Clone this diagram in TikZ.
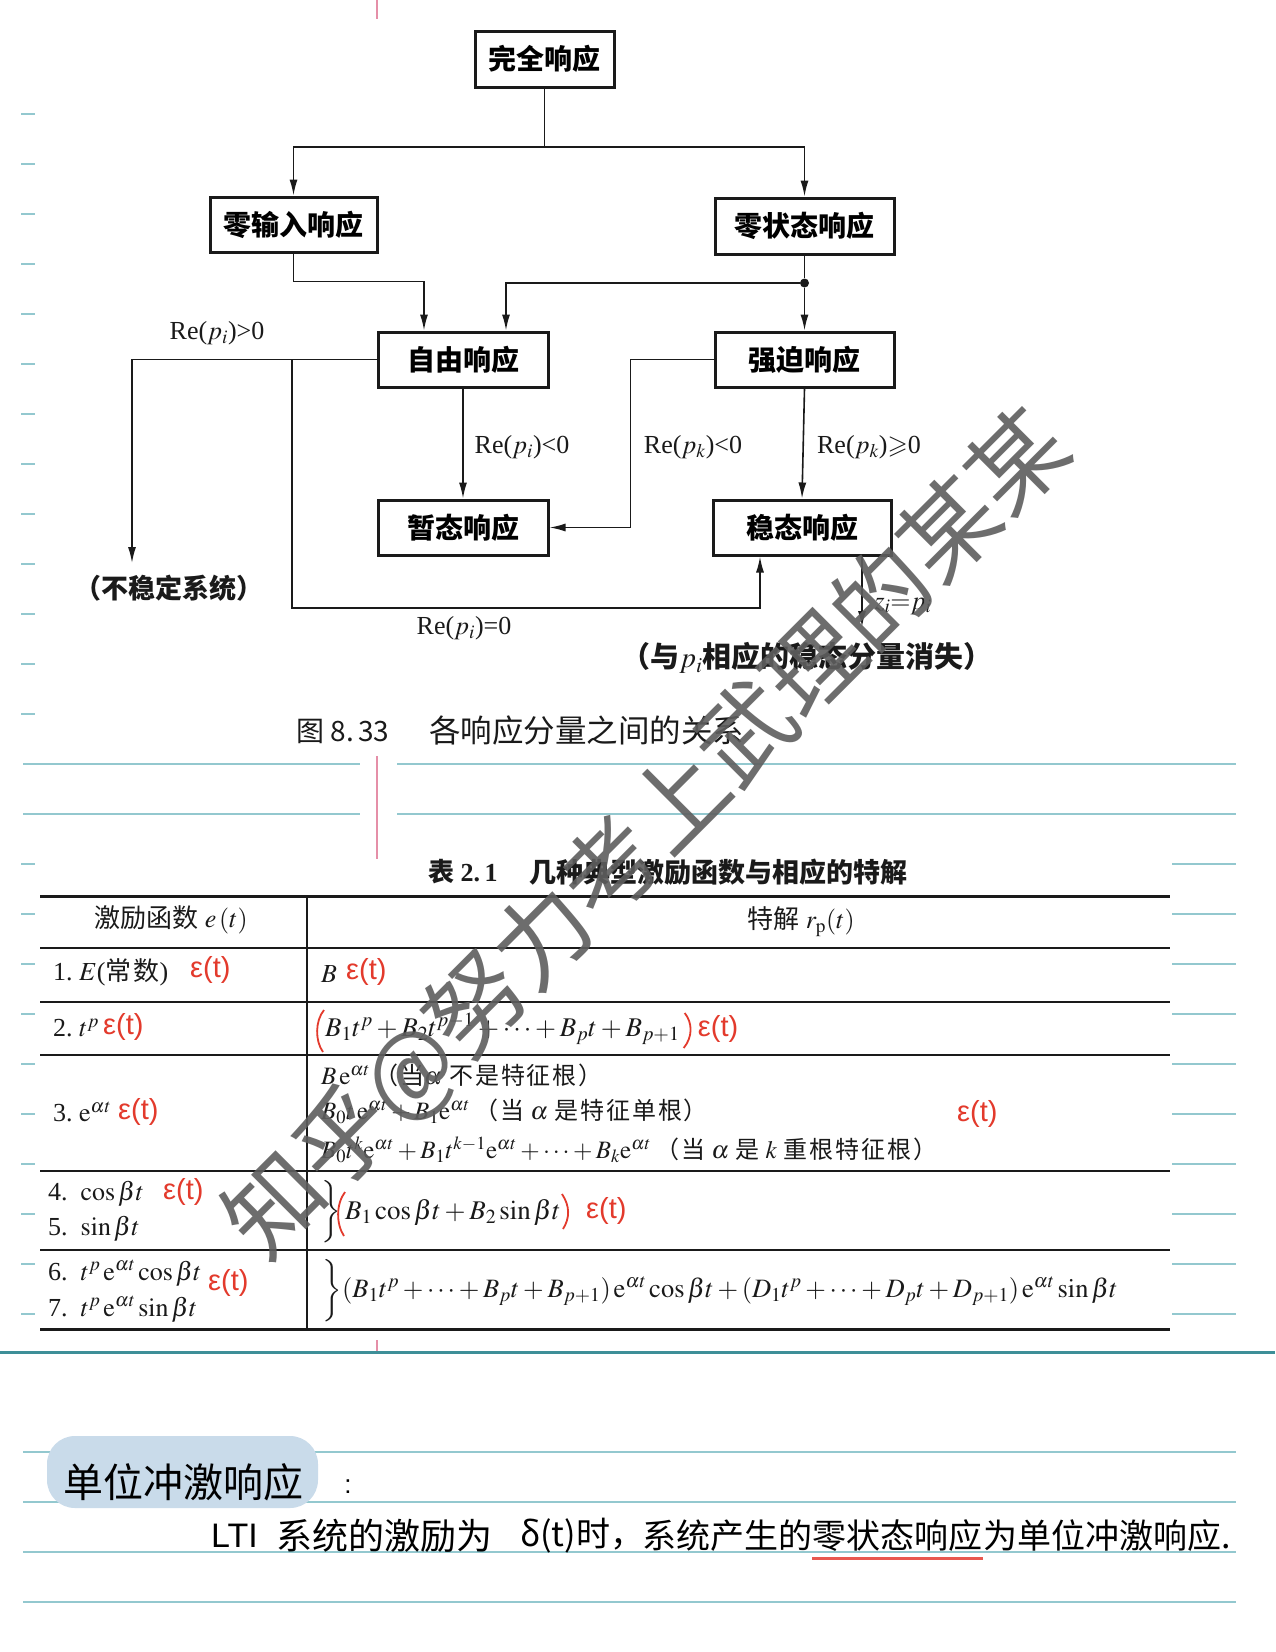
\documentclass[tikz,border=0pt]{standalone}
\usepackage{mathptmx}
\usepackage{amssymb}
\usepackage{fontspec}
\setmainfont{Liberation Serif}
\newfontfamily\cjk{Noto Sans CJK SC}
\newfontfamily\cjkls{Noto Sans CJK SC}[LetterSpace=8]
\newfontfamily\hand{Liberation Sans}
\usetikzlibrary{arrows.meta}
\newcommand\setfs[1]{\fontsize{#1pt}{#1pt}\selectfont}
\definecolor{ink}{HTML}{1A1A1A}
\definecolor{nbline}{HTML}{93C8CF}
\definecolor{nbdark}{HTML}{3E8F98}
\definecolor{pinkl}{HTML}{E58FA8}
\definecolor{hred}{HTML}{E33A2C}
\definecolor{hlblue}{HTML}{C9DBEA}
\definecolor{wmgray}{HTML}{5E5E5E}
\definecolor{ulred}{HTML}{E8584F}
\begin{document}
\begin{tikzpicture}[x=1pt,y=-1pt,
  box/.style={draw=ink, line width=3pt, inner sep=0pt, font=\cjk\bfseries\setfs{28}},
  conn/.style={draw=ink, line width=1.6pt},
  arr/.style={conn, -{Latex[length=16pt,width=8pt]}},
  jdot/.style={circle, fill=ink, inner sep=0pt, minimum size=9pt},
  lbl/.style={inner sep=0pt, text=ink, font=\setfs{26}},
  cell/.style={inner sep=0pt, anchor=west, text=ink, font=\setfs{26}},
  hw/.style={inner sep=0pt, anchor=west, text=hred, font=\hand\setfs{29}},
  hparen/.style={draw=hred, line width=1.8pt},
  nb/.style={draw=nbline, line width=1.4pt},
  rulethin/.style={draw=ink, line width=1.6pt},
  rulethick/.style={draw=ink, line width=3pt},
  hnote/.style={inner sep=0pt, anchor=west, text=black, font=\cjk\setfs{34}}
]
\useasboundingbox (0,0) rectangle (1275,1652);
\fill[white] (0,0) rectangle (1275,1652);

% ---------- notebook ruling ----------
\foreach \yy in {114,164,...,714} \draw[nb] (21,\yy) -- (35,\yy);
\foreach \yy in {864,914,...,1314} {
  \draw[nb] (21,\yy) -- (35,\yy);
  \draw[nb] (1172,\yy) -- (1236,\yy);
}
\foreach \yy in {764,814} {
  \draw[nb] (23,\yy) -- (360,\yy);
  \draw[nb] (397,\yy) -- (1236,\yy);
}
\foreach \yy in {1452,1502,1552,1602} \draw[nb] (23,\yy) -- (1236,\yy);
\draw[nbdark, line width=3pt] (0,1352) -- (1275,1352);
\draw[pinkl, line width=2pt] (377,0) -- (377,19);
\draw[pinkl, line width=2pt] (377,756) -- (377,859);
\draw[pinkl, line width=2pt] (377,1340) -- (377,1351);

% ---------- flow chart of response components ----------
\node[box, minimum width=139pt, minimum height=56pt] (full)   at (544.5,59)    {完全响应};
\node[box, minimum width=167pt, minimum height=55pt] (zin)    at (293.5,224.5) {零输入响应};
\node[box, minimum width=179pt, minimum height=56pt] (zst)    at (804.5,226)   {零状态响应};
\node[box, minimum width=170pt, minimum height=55pt] (free)   at (463,359.5)   {自由响应};
\node[box, minimum width=179pt, minimum height=55pt] (forced) at (804.5,359.5) {强迫响应};
\node[box, minimum width=170pt, minimum height=55pt] (trans)  at (463,527.5)   {暂态响应};
\node[box, minimum width=178pt, minimum height=55pt] (steady) at (802,527.5)   {稳态响应};

\coordinate (split) at (544.5,147);
\draw[conn] (full.south) -- (split);
\draw[arr] (split) -| (zin.north);
\draw[arr] (split) -| (zst.north);

\draw[arr] (zin.south) -- ++(0,28) -| ([xshift=-39pt]free.north);
\node[jdot] (dot) at (804.5,283) {};
\draw[conn] (zst.south) -- (dot);
\draw[arr] (dot) -- (forced.north);
\draw[arr] (dot) -| ([xshift=43pt]free.north);

\coordinate (unstab) at (132,563);
\draw[arr] (free.west) -| (unstab);
\coordinate (branch) at (292,359.5);
\coordinate (bottom) at (760,608);
\draw[arr] (branch) |- (bottom) -- (bottom |- steady.south);
\draw[arr] (free.south) -- (trans.north);
\draw[arr] (forced.west) -- ++(-83,0) |- (trans.east);
\draw[arr] (forced.south) -- (steady.north);
\coordinate (vanish) at (862,627);
\draw[arr] ([xshift=60pt]steady.south) -- (vanish);

\node[lbl] (lgt)  at (217,333) {Re($p_i$)>0};
\node[lbl] (llt)  at (522,447) {Re($p_i$)<0};
\node[lbl] (lklt) at (693,447) {Re($p_k$)<0};
\node[lbl] (lkge) at (869,447) {Re($p_k$)$\geqslant$0};
\node[lbl] (leq)  at (464,628) {Re($p_i$)=0};
\node[lbl] (lz)   at (903,606) {$z_i{=}p_i$};
\node[inner sep=0pt, text=ink, font=\cjk\bfseries\setfs{27}] (unst) at (169,588) {（不稳定系统）};
\node[inner sep=0pt, text=ink, font=\cjk\bfseries\setfs{29}] (vanishtxt) at (807,658) {（与$p_i$相应的稳态分量消失）};
\node[inner sep=0pt, anchor=west, text=ink, font=\cjk\setfs{28}] (cap1) at (296,731) {图 8.\,33};
\node[inner sep=0pt, anchor=west, text=ink, font=\cjk\setfs{31.5}] (cap2) at (429,731) {各响应分量之间的关系};

% ---------- table of particular solutions ----------
\node[inner sep=0pt, anchor=west, text=ink, font=\setfs{26}\bfseries] (ttl1) at (428,872) {{\cjk 表} 2.\,1};
\node[inner sep=0pt, anchor=west, text=ink, font=\cjk\bfseries\setfs{27}] (ttl2) at (529,872) {几种典型激励函数与相应的特解};
\draw[rulethick] (40,896) -- (1170,896);
\draw[rulethin]  (40,948) -- (1170,948);
\draw[rulethin]  (40,1002) -- (1170,1002);
\draw[rulethin]  (40,1055) -- (1170,1055);
\draw[rulethin]  (40,1171) -- (1170,1171);
\draw[rulethin]  (40,1250) -- (1170,1250);
\draw[rulethick] (40,1329) -- (1170,1329);
\draw[rulethin]  (307,896) -- (307,1329);

\node[inner sep=0pt, text=ink, font=\setfs{26}] (h1) at (171,920) {{\cjk 激励函数} $e\,(t)$};
\node[inner sep=0pt, text=ink, font=\setfs{26}] (h2) at (801,922) {{\cjk 特解} $r_{\mathrm{p}}(t)$};

% row 1
\node[cell] (a1) at (53,972) {1.\ $E$({\cjkls 常数})};
\node[hw] (a1e) at (190,970) {ε(t)};
\node[cell] (b1) at (321,974) {$B$};
\node[hw] (b1e) at (346,972) {ε(t)};
% row 2
\node[cell] (a2) at (53,1028) {2.\ $t^p$};
\node[hw] (a2e) at (103,1027) {ε(t)};
\node[cell] (b2) at (325,1029) {\setfs{27}$B_1t^p+B_2t^{p-1}+\cdots+B_pt+B_{p+1}$};
\draw[hparen] ([xshift=-1pt,yshift=19pt]b2.west) .. controls ([xshift=-10pt,yshift=8pt]b2.west) and ([xshift=-10pt,yshift=-12pt]b2.west) .. ([xshift=-2pt,yshift=-23pt]b2.west);
\draw[hparen] ([xshift=5pt,yshift=16pt]b2.east) .. controls ([xshift=13pt,yshift=6pt]b2.east) and ([xshift=13pt,yshift=-8pt]b2.east) .. ([xshift=4pt,yshift=-19pt]b2.east);
\node[hw] (b2e) at ([xshift=18pt]b2.east) {ε(t)};
% row 3
\node[cell] (a3) at (53,1112) {3.\ $\mathrm{e}^{\alpha t}$};
\node[hw] (a3e) at (118,1112) {ε(t)};
\node[cell, font=\setfs{25}] (b3a) at (321,1075) {$B\,\mathrm{e}^{\alpha t}$\,{\cjkls\setfs{24}（当}$\alpha${\cjkls\setfs{24} 不是特征根）}};
\node[cell, font=\setfs{25}] (b3b) at (321,1111) {$B_0t\,\mathrm{e}^{\alpha t}+B_1\mathrm{e}^{\alpha t}$\,{\cjkls\setfs{24}（当} $\alpha$ {\cjkls\setfs{24}是特征单根）}};
\node[cell, font=\setfs{25}] (b3c) at (321,1150) {$B_0t^k\mathrm{e}^{\alpha t}+B_1t^{k-1}\mathrm{e}^{\alpha t}+\cdots+B_k\mathrm{e}^{\alpha t}$\,{\cjkls\setfs{24}（当} $\alpha$ {\cjkls\setfs{24}是} $k$ {\cjkls\setfs{24}重根特征根）}};
\node[hw] (b3e) at (957,1114) {ε(t)};
% rows 4 and 5
\node[cell] (a4) at (48,1194) {4.\ \ $\cos\beta t$};
\node[hw] (a4e) at (163,1192) {ε(t)};
\node[cell] (a5) at (48,1229) {5.\ \ $\sin\beta t$};
\node[inner sep=0pt, text=ink] (br45) at (331,1212) {\setfs{26}$\left.\vrule height 24pt depth 24pt width 0pt\right\}$};
\node[cell, font=\setfs{27}] (b45) at (345,1212) {$B_1\cos\beta t+B_2\sin\beta t$};
\draw[hparen] ([xshift=0pt,yshift=20pt]b45.west) .. controls ([xshift=-9pt,yshift=8pt]b45.west) and ([xshift=-9pt,yshift=-12pt]b45.west) .. ([xshift=-1pt,yshift=-24pt]b45.west);
\coordinate (rp45) at (567,1212);
\draw[hparen] ([xshift=-4pt,yshift=-17pt]rp45) .. controls ([xshift=3pt,yshift=-6pt]rp45) and ([xshift=3pt,yshift=6pt]rp45) .. ([xshift=-5pt,yshift=18pt]rp45);
\node[hw] (b45e) at (586,1211) {ε(t)};
% rows 6 and 7
\node[cell] (a6) at (48,1273) {6.\ \ $t^p\,\mathrm{e}^{\alpha t}\cos\beta t$};
\node[hw] (a6e) at (208,1283) {ε(t)};
\node[cell] (a7) at (48,1309) {7.\ \ $t^p\,\mathrm{e}^{\alpha t}\sin\beta t$};
\node[inner sep=0pt, text=ink] (br67) at (332,1291) {\setfs{26}$\left.\vrule height 24pt depth 24pt width 0pt\right\}$};
\node[cell, font=\setfs{26.5}] (b67) at (342,1291) {$(B_1t^p+\cdots+B_pt+B_{p+1})\,\mathrm{e}^{\alpha t}\cos\beta t+(D_1t^p+\cdots+D_pt+D_{p+1})\,\mathrm{e}^{\alpha t}\sin\beta t$};

% ---------- handwritten note ----------
\fill[hlblue, rounded corners=28pt] (47,1436) rectangle (318,1508);
\node[hnote, font=\cjk\setfs{40}] (title) at (63,1482) {单位冲激响应};
\node[inner sep=0pt, font=\hand\setfs{26}] (colon) at (348,1487) {:};
\node[hnote, font=\hand\setfs{34}] (n1) at (211,1536) {LTI};
\node[hnote, font=\cjk\setfs{36}] (n2) at (276,1536) {系统的激励为};
\node[hnote] (n3) at (520,1536) {δ(t)时，};
\node[hnote] (n4) at (642,1536) {系统产生的};
\node[hnote] (n5) at (n4.east) {零状态响应};
\node[hnote] (n6) at (n5.east) {为单位冲激响应.};
\draw[ulred, line width=3pt] ([yshift=-6pt]n5.south west) -- ([yshift=-6pt]n5.south east);

% ---------- watermark ----------
\node[inner sep=0pt, rotate=45, text=wmgray, opacity=0.9, font=\cjk\setfs{96}] (wm) at (648,835) {知乎@努力考上武理的某某};
\end{tikzpicture}
\end{document}
